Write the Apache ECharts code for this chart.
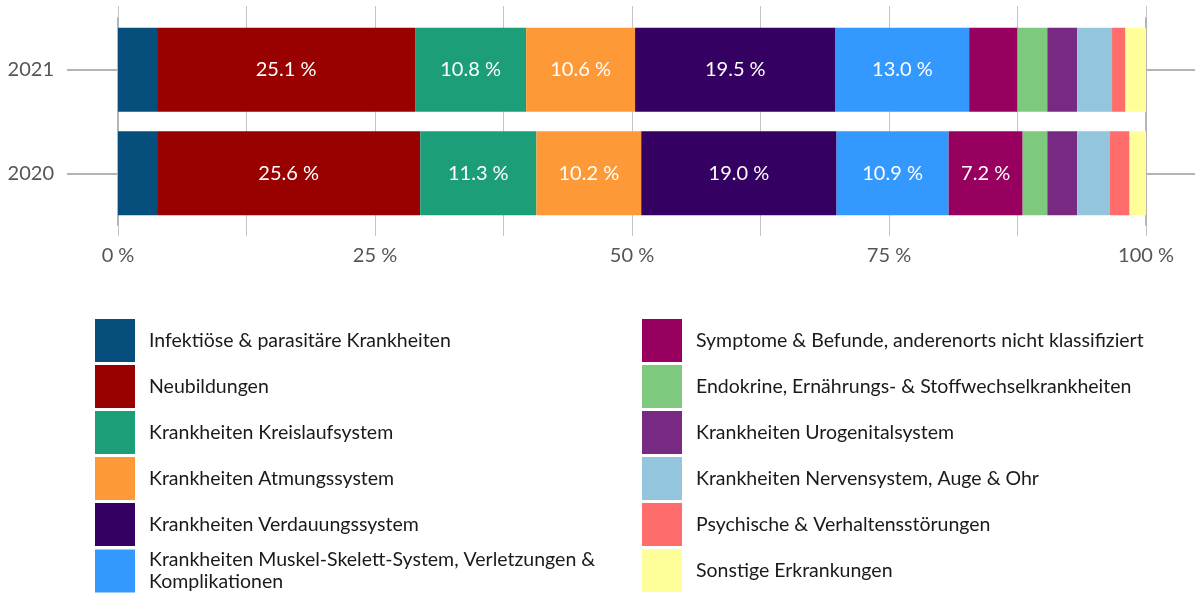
<!DOCTYPE html>
<html>
<head>
<meta charset="utf-8">
<script src="https://cdn.jsdelivr.net/npm/echarts@6/dist/echarts.min.js"></script>
<style>
html,body{margin:0;padding:0;background:#fff;}
#chart{width:1195px;height:594px;}
</style>
</head>
<body>
<div id="chart"></div>
<script>
var years = ['2020', '2021'];
var seriesNames = [
  'Infektiöse & parasitäre Krankheiten',
  'Neubildungen',
  'Krankheiten Kreislaufsystem',
  'Krankheiten Atmungssystem',
  'Krankheiten Verdauungssystem',
  'Krankheiten Muskel-Skelett-System, Verletzungen & Komplikationen',
  'Symptome & Befunde, anderenorts nicht klassifiziert',
  'Endokrine, Ernährungs- & Stoffwechselkrankheiten',
  'Krankheiten Urogenitalsystem',
  'Krankheiten Nervensystem, Auge & Ohr',
  'Psychische & Verhaltensstörungen',
  'Sonstige Erkrankungen'
];
// values per series: [2020, 2021]
var infektioese = [3.8, 3.8];
var neubildungen = [25.6, 25.1];
var kreislauf = [11.3, 10.8];
var atmung = [10.2, 10.6];
var verdauung = [19.0, 19.5];
var muskel = [10.9, 13.0];
var symptome = [7.2, 4.7];
var endokrine = [2.4, 2.9];
var urogenital = [2.9, 2.9];
var nerven = [3.2, 3.4];
var psychische = [1.9, 1.3];
var sonstige = [1.6, 2.0];
var xTicks = [0, 25, 50, 75, 100];

var allValues = [infektioese, neubildungen, kreislauf, atmung, verdauung, muskel,
  symptome, endokrine, urogenital, nerven, psychische, sonstige];
var colors = ['#064f7c', '#990000', '#1c9e78', '#fd9a37', '#340061', '#3399fe',
  '#97005f', '#7fc97f', '#782a82', '#93c5dd', '#fe6c6b', '#feff99'];

var FONT = 'Lato';
var series = seriesNames.map(function (name, i) {
  return {
    name: name,
    type: 'bar',
    stack: 'total',
    barWidth: 84,
    xAxisIndex: 0,
    yAxisIndex: 0,
    itemStyle: { color: colors[i] },
    label: {
      show: true,
      position: 'inside',
      color: '#ffffff',
      fontFamily: FONT,
      fontSize: 20,
      formatter: function (p) { return p.value >= 5 ? p.value.toFixed(1) + ' %' : ''; }
    },
    emphasis: { disabled: true },
    data: allValues[i]
  };
});

var legendText = {
  fontFamily: FONT, fontSize: 19.5, color: '#1a1a1a', padding: [0, 0, 0, 9],
  lineHeight: 22, width: 470, overflow: 'break'
};

var chart = echarts.init(document.getElementById('chart'), null, { renderer: 'canvas' });
chart.setOption({
  animation: false,
  textStyle: { fontFamily: FONT },
  grid: [
    { left: 118, right: 49, top: 18, bottom: 369, containLabel: false, outerBoundsMode: 'none' },
    { left: 1146, right: 0, top: 18, bottom: 369, containLabel: false, outerBoundsMode: 'none' }
  ],
  xAxis: [{
    type: 'value', gridIndex: 0, position: 'bottom', min: 0, max: 100, interval: 12.5,
    axisLine: { show: false },
    axisTick: { show: true, length: 11, lineStyle: { color: '#c4c4c4', width: 1 } },
    splitLine: { show: true, lineStyle: { color: '#c4c4c4', width: 1 } },
    axisLabel: {
      margin: 21, color: '#555555', fontFamily: FONT, fontSize: 20,
      formatter: function (v) { return xTicks.indexOf(v) >= 0 ? v + ' %' : ''; }
    }
  }, {
    type: 'value', gridIndex: 0, position: 'top', min: 0, max: 100, interval: 12.5,
    axisLine: { show: false },
    axisTick: { show: true, length: 12, lineStyle: { color: '#c4c4c4', width: 1 } },
    splitLine: { show: false },
    axisLabel: { show: false }
  }, {
    type: 'value', gridIndex: 1, min: 0, max: 1, show: false
  }],
  yAxis: [{
    type: 'category', gridIndex: 0, data: years, position: 'left',
    axisLine: { show: true, lineStyle: { color: '#b4b4b4', width: 2 } },
    axisTick: { show: true, alignWithLabel: true, length: 51, lineStyle: { color: '#b4b4b4', width: 2 } },
    axisLabel: { margin: 64, color: '#555555', fontFamily: FONT, fontSize: 20 }
  }, {
    type: 'category', gridIndex: 1, data: years, position: 'left',
    axisLine: { show: true, lineStyle: { color: '#b4b4b4', width: 2 } },
    axisTick: { show: true, inside: true, alignWithLabel: true, length: 50, lineStyle: { color: '#b4b4b4', width: 2 } },
    axisLabel: { show: true, margin: 8, color: 'rgba(0,0,0,0)', fontSize: 10 }
  }],
  legend: [{
    orient: 'vertical', left: 95, top: 319, height: 275, padding: 0,
    itemWidth: 40, itemHeight: 43, itemGap: 3,
    icon: 'rect', selectedMode: false, textStyle: legendText,
    data: seriesNames.slice(0, 6)
  }, {
    orient: 'vertical', left: 642, top: 319, height: 275, padding: 0,
    itemWidth: 40, itemHeight: 43, itemGap: 3,
    icon: 'rect', selectedMode: false, textStyle: legendText,
    data: seriesNames.slice(6)
  }],
  series: series
});
</script>
</body>
</html>
